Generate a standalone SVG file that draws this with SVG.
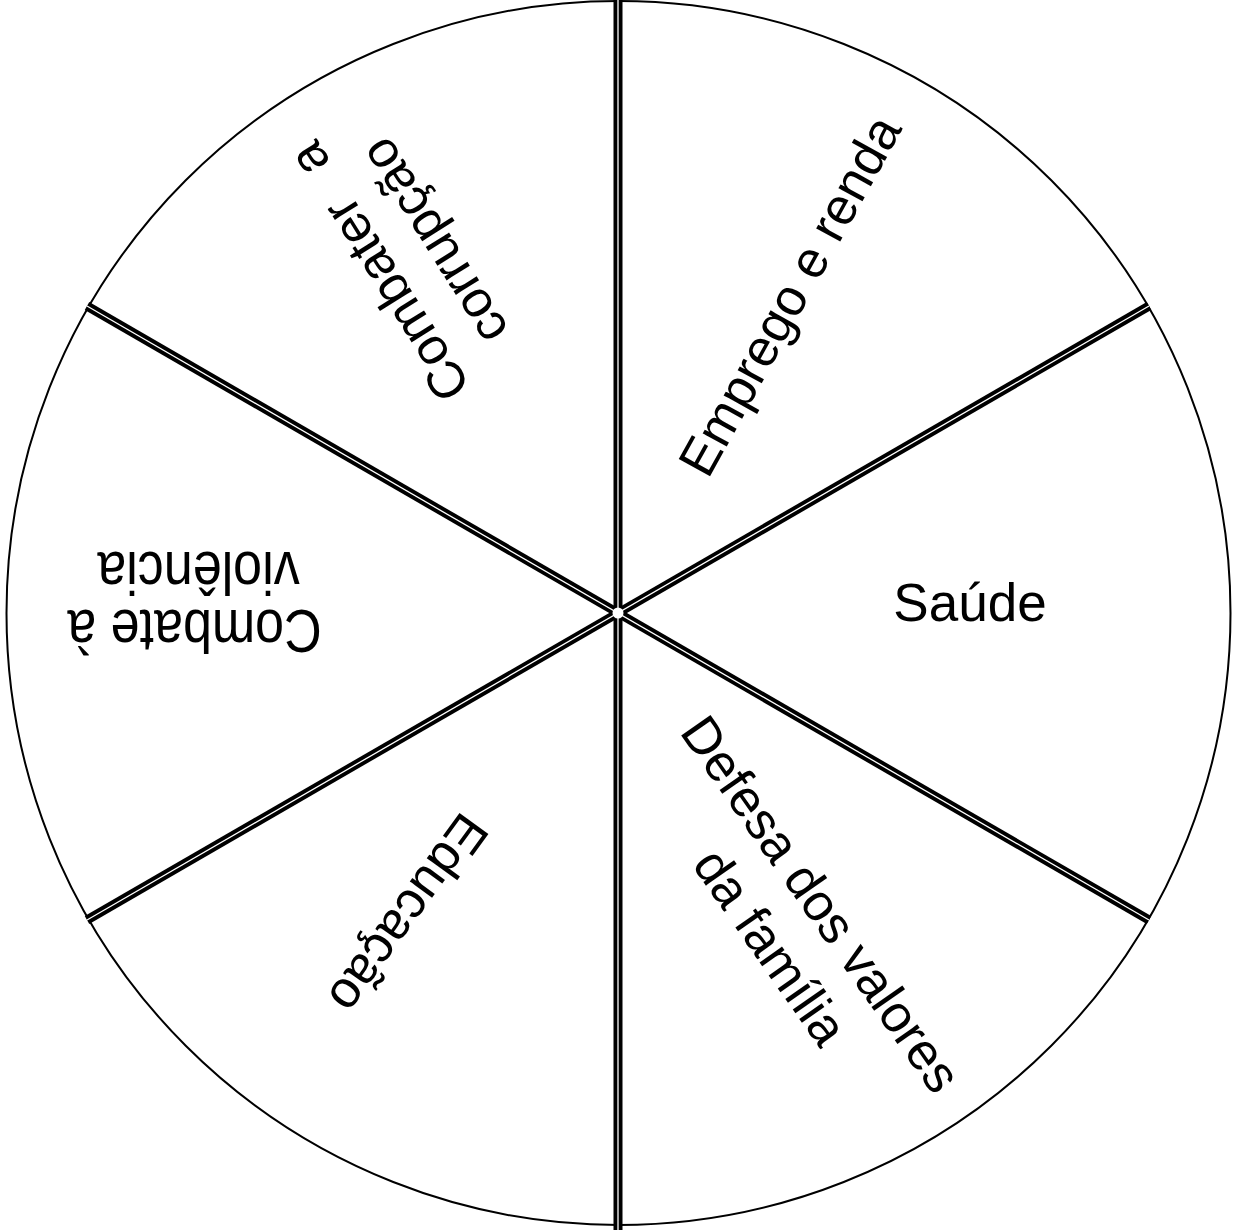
<svg xmlns="http://www.w3.org/2000/svg" width="1237" height="1230" viewBox="0 0 1237 1230">
<style>
.txt{font-family:"Liberation Sans",Arial,sans-serif;font-size:52px;fill:#000;text-anchor:middle}
.out{stroke:#000;stroke-width:9;fill:none}
.mid{stroke:#fff;stroke-width:1.3;fill:none}
</style>
<rect width="1237" height="1230" fill="#fff"/>
<circle id="wheel" cx="618.5" cy="613" r="612" fill="#fff" stroke="#000" stroke-width="2"/>
<g id="connectors">
<defs>
<path id="l1" d="M618,0 L618,1230"/>
<path id="l2" d="M87,306 L1149,920"/>
<path id="l3" d="M87,920 L1149,306"/>
</defs>
<use href="#l1" class="out"/><use href="#l2" class="out"/><use href="#l3" class="out"/>
<use href="#l1" class="mid"/><use href="#l2" class="mid"/><use href="#l3" class="mid"/>
<circle cx="618" cy="613" r="5.5" fill="#fff"/>
</g>
<g id="saude"><text class="txt" x="970" y="621" style="font-size:53px">Saúde</text></g>
<g id="emprego" transform="translate(791.5,296.5) rotate(-61)"><text class="txt" x="0" y="16">Emprego e renda</text></g>
<g id="defesa" transform="translate(793.5,927) rotate(55)"><text class="txt" x="-3" y="-18">Defesa dos valores</text><text class="txt" x="3" y="48">da família</text></g>
<g id="educacao" transform="translate(407,912.5) rotate(126)"><text class="txt" x="0" y="16">Educação</text></g>
<g id="violencia" transform="translate(196.5,610) rotate(180) scale(1,1.16)"><text class="txt" x="2" y="0">Combate à</text><text class="txt" x="-2" y="50">violência</text></g>
<g id="corrupcao" transform="translate(409,255) rotate(-122)"><text class="txt" x="1.5" y="-16.7">Combater <tspan dx="22">a</tspan></text><text class="txt" x="-1.5" y="46">corrupção</text></g>
</svg>
